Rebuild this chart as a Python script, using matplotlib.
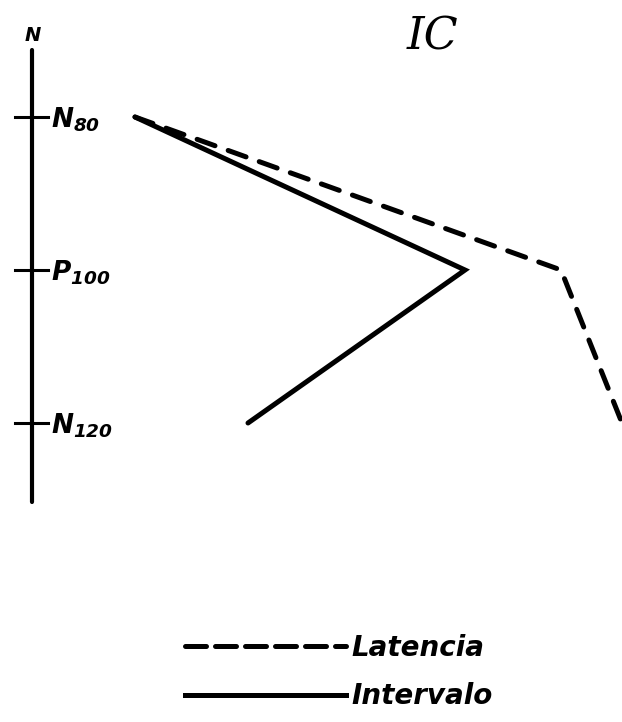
import matplotlib
matplotlib.use("Agg")
import matplotlib.pyplot as plt
from matplotlib.lines import Line2D

plt.rcParams['mathtext.fontset'] = 'custom'
plt.rcParams['mathtext.it'] = 'DejaVu Sans:italic:bold'
plt.rcParams['mathtext.rm'] = 'DejaVu Sans:italic:bold'

# componentes (eje vertical) y posicion horizontal de cada curva
componentes = ['N80', 'P100', 'N120']
niveles = [80, 100, 120]
etiquetas = [r'$N_{80}$', r'$P_{100}$', r'$N_{120}$']
latencia = [135, 561, 622]
intervalo = [135, 465, 248]
titulo = 'IC'

fig = plt.figure(figsize=(6.22, 7.22), dpi=100)
ax = fig.add_axes([0, 0, 1, 1])
ax.set_xlim(0, 622)
ax.set_ylim(80 + 605 / 7.65, 80 - 117 / 7.65)
ax.axis('off')

# eje N
ax.plot([32, 32], [80 - 67 / 7.65, 80 + 385 / 7.65], color='black', lw=3.0,
        solid_capstyle='round')
ax.text(33, 80 - 82 / 7.65, 'N', ha='center', va='center', fontsize=14,
        fontweight='bold', fontstyle='italic')
for y, lab in zip(niveles, etiquetas):
    ax.plot([15, 48], [y, y], color='black', lw=2.2)
    ax.text(51, y + 0.4, lab, ha='left', va='center', fontsize=19)

l1, = ax.plot(latencia, niveles, color='black', lw=3.6, ls=(0, (3.8, 2.8)),
              dash_capstyle='round', solid_joinstyle='round', label='Latencia')
l2, = ax.plot(intervalo, niveles, color='black', lw=3.6,
              solid_capstyle='round', solid_joinstyle='miter', label='Intervalo')

ax.text(432, 80 - 80 / 7.65, titulo, ha='center', va='center', fontsize=32,
        family='DejaVu Serif', fontstyle='italic')

h1 = Line2D([], [], color='black', lw=3.6, ls=(0, (4.2, 1.8)), dash_capstyle='round')
h2 = Line2D([], [], color='black', lw=3.6)
leg = ax.legend([h1, h2], ['Latencia', 'Intervalo'], loc='center left',
                bbox_to_anchor=(160 / 622, 1 - 672 / 722), frameon=False,
                handlelength=5.8, handletextpad=0.2, labelspacing=0.75,
                prop={'weight': 'bold', 'style': 'italic', 'size': 20})

fig.savefig('out.png', dpi=100)
